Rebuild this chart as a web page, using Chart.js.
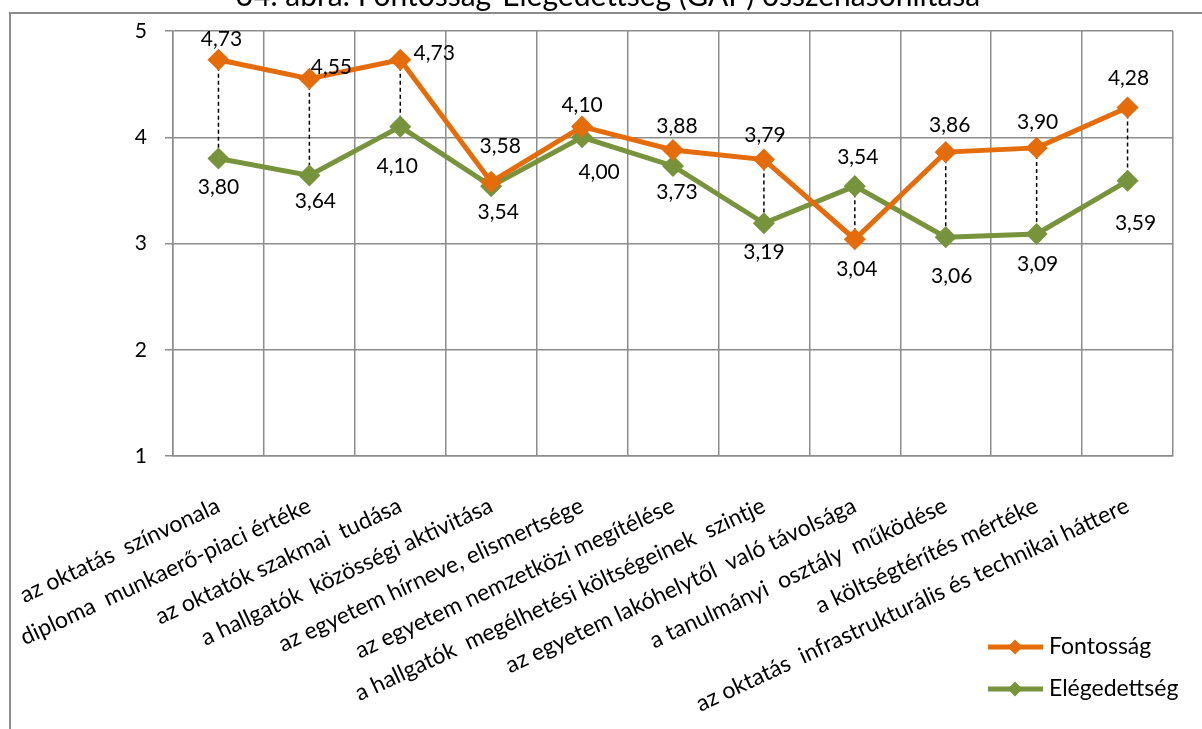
<!DOCTYPE html>
<html>
<head>
<meta charset="utf-8">
<script src="https://cdn.jsdelivr.net/npm/chart.js@4.4.0/dist/chart.umd.min.js"></script>
<style>
  html, body { margin: 0; padding: 0; background: #fff; overflow: hidden; }
  #wrap { width: 1202px; height: 729px; position: relative; }
</style>
</head>
<body>
<div id="wrap"><canvas id="gapChart" width="1202" height="729"></canvas></div>
<script>
// Kategóriák és értékek
const kategoriak = [
    'az oktatás  színvonala',
    'diploma  munkaerő-piaci értéke',
    'az oktatók szakmai  tudása',
    'a hallgatók  közösségi aktivitása',
    'az egyetem hírneve, elismertsége',
    'az egyetem nemzetközi megítélése',
    'a hallgatók  megélhetési költségeinek  szintje',
    'az egyetem lakóhelytől  való távolsága',
    'a tanulmányi  osztály  működése',
    'a költségtérítés mértéke',
    'az oktatás  infrastrukturális és technikai háttere'
];
const fontossag = [4.73, 4.55, 4.73, 3.58, 4.10, 3.88, 3.79, 3.04, 3.86, 3.90, 4.28];
const elegedettseg = [3.80, 3.64, 4.10, 3.54, 4.00, 3.73, 3.19, 3.54, 3.06, 3.09, 3.59];
const yTicks = [1, 2, 3, 4, 5];

const cim = '34. ábra: Fontosság-Elégedettség (GAP) összehasonlítása';
const sorozatNevek = ['Fontosság', 'Elégedettség'];

// Színek, betűk
const NARANCS = '#E46C0A';
const ZOLD = '#77933C';
const RACS = '#8C8C8C';
const BETU = 'Lato, Carlito, Calibri, sans-serif';

// Címkék eltolása a ponthoz képest (dx, dy)
const narancsEltolas = [[3, -20], [22, -12], [34, -6], [9, -36], [0, -21], [4, -24], [1, -24], [2, 30], [4, -27], [1, -26], [1, -29]];
const zoldEltolas = [[0, 29], [6, 26], [-3, 40], [7, 26], [17, 35], [4, 26], [0, 29], [3, -29], [6, 39], [1, 30], [8, 42]];

function formatSzam(v) {
    return v.toFixed(2).replace('.', ',');
}

function rajzolRombusz(ctx, x, y, r, szin) {
    ctx.beginPath();
    ctx.moveTo(x, y - r);
    ctx.lineTo(x + r, y);
    ctx.lineTo(x, y + r);
    ctx.lineTo(x - r, y);
    ctx.closePath();
    ctx.fillStyle = szin;
    ctx.fill();
}

const gapPlugin = {
    id: 'gapPlugin',
    beforeDatasetsDraw(chart) {
        // szaggatott függőleges vonalak a két sorozat között
        const ctx = chart.ctx;
        const x = chart.scales.x;
        const y = chart.scales.y;
        ctx.save();
        ctx.strokeStyle = '#000';
        ctx.lineWidth = 1.5;
        ctx.setLineDash([4, 3]);
        fontossag.forEach((f, i) => {
            const px = x.getPixelForValue(i);
            ctx.beginPath();
            ctx.moveTo(px, y.getPixelForValue(f));
            ctx.lineTo(px, y.getPixelForValue(elegedettseg[i]));
            ctx.stroke();
        });
        ctx.restore();
    },
    afterDatasetsDraw(chart) {
        // adatcímkék
        const ctx = chart.ctx;
        const x = chart.scales.x;
        const y = chart.scales.y;
        ctx.save();
        ctx.font = '21px ' + BETU;
        ctx.fillStyle = '#000';
        ctx.textAlign = 'center';
        ctx.textBaseline = 'middle';
        fontossag.forEach((f, i) => {
            const px = x.getPixelForValue(i);
            ctx.fillText(formatSzam(f), px + narancsEltolas[i][0], y.getPixelForValue(f) + narancsEltolas[i][1]);
            const e = elegedettseg[i];
            ctx.fillText(formatSzam(e), px + zoldEltolas[i][0], y.getPixelForValue(e) + zoldEltolas[i][1]);
        });
        ctx.restore();
    },
    afterDraw(chart) {
        const ctx = chart.ctx;
        ctx.save();
        // keret
        ctx.strokeStyle = '#8C8C8C';
        ctx.lineWidth = 2;
        ctx.beginPath();
        ctx.moveTo(10, 729);
        ctx.lineTo(10, 13);
        ctx.lineTo(1202, 13);
        ctx.stroke();
        // cím (félig kilóg a képből)
        ctx.font = '30px ' + BETU;
        ctx.fillStyle = '#000';
        ctx.textAlign = 'center';
        ctx.textBaseline = 'alphabetic';
        ctx.fillText(cim, 608, 6);
        // jelmagyarázat
        const szinek = [NARANCS, ZOLD];
        const sorY = [647, 689];
        ctx.font = '23px ' + BETU;
        ctx.textAlign = 'left';
        ctx.textBaseline = 'middle';
        sorozatNevek.forEach((nev, i) => {
            ctx.strokeStyle = szinek[i];
            ctx.lineWidth = 5;
            ctx.beginPath();
            ctx.moveTo(988, sorY[i]);
            ctx.lineTo(1043, sorY[i]);
            ctx.stroke();
            rajzolRombusz(ctx, 1015, sorY[i], 7.5, szinek[i]);
            ctx.fillStyle = '#000';
            ctx.fillText(nev, 1049, sorY[i]);
        });
        ctx.restore();
    }
};

new Chart(document.getElementById('gapChart'), {
    type: 'line',
    data: {
        labels: kategoriak,
        datasets: [{
            label: sorozatNevek[0],
            data: fontossag,
            borderColor: NARANCS,
            backgroundColor: NARANCS,
            borderWidth: 5,
            pointStyle: 'rectRot',
            pointRadius: 7.5,
            pointHoverRadius: 7.5,
            tension: 0
        }, {
            label: sorozatNevek[1],
            data: elegedettseg,
            borderColor: ZOLD,
            backgroundColor: ZOLD,
            borderWidth: 5,
            pointStyle: 'rectRot',
            pointRadius: 7.5,
            pointHoverRadius: 7.5,
            tension: 0
        }]
    },
    options: {
        responsive: false,
        animation: false,
        devicePixelRatio: 1,
        layout: { padding: { left: 0, top: 31, right: 29, bottom: 0 } },
        plugins: {
            legend: { display: false },
            tooltip: { enabled: false }
        },
        scales: {
            x: {
                offset: true,
                grid: { color: RACS, lineWidth: 1.5, offset: true, drawTicks: false },
                border: { color: RACS, width: 1.5 },
                ticks: {
                    autoSkip: false,
                    minRotation: 25,
                    maxRotation: 25,
                    padding: 36,
                    color: '#000',
                    font: { family: BETU, size: 23 }
                },
                afterFit(scale) {
                    scale.height = 273;
                    scale.paddingLeft = 0;
                    scale.paddingRight = 0;
                }
            },
            y: {
                min: 1,
                max: 5,
                afterBuildTicks(scale) { scale.ticks = yTicks.map(v => ({ value: v })); },
                grid: { color: RACS, lineWidth: 1.5, drawTicks: true, tickLength: 8 },
                border: { color: RACS, width: 1.5 },
                ticks: {
                    padding: 18,
                    color: '#000',
                    font: { family: BETU, size: 21 }
                },
                afterFit(scale) { scale.width = 173; }
            }
        }
    },
    plugins: [gapPlugin]
});
</script>
</body>
</html>
